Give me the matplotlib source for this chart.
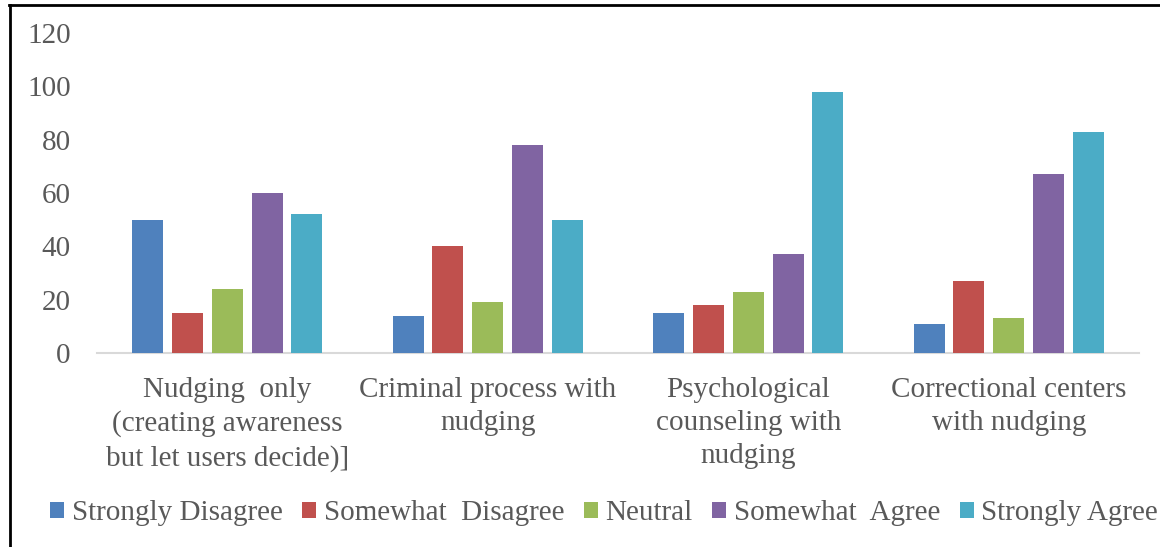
import matplotlib
matplotlib.use("Agg")
import matplotlib.pyplot as plt
from matplotlib.lines import Line2D
import numpy as np

categories = [
    "Nudging  only\n(creating awareness\nbut let users decide)]",
    "Criminal process with\nnudging",
    "Psychological\ncounseling with\nnudging",
    "Correctional centers\nwith nudging",
]
series_names = ["Strongly Disagree", "Somewhat  Disagree", "Neutral",
                "Somewhat  Agree", "Strongly Agree"]
strongly_disagree = [50, 14, 15, 11]
somewhat_disagree = [15, 40, 18, 27]
neutral = [24, 19, 23, 13]
somewhat_agree = [60, 78, 37, 67]
strongly_agree = [52, 50, 98, 83]
y_ticks = [0, 20, 40, 60, 80, 100, 120]

series_values = [strongly_disagree, somewhat_disagree, neutral,
                 somewhat_agree, strongly_agree]
colors = ["#4F81BD", "#C0504D", "#9BBB59", "#8064A2", "#4BACC6"]
text_color = "#595959"

plt.rcParams["font.family"] = ["Liberation Serif", "DejaVu Serif"]
plt.rcParams["font.size"] = 21

fig = plt.figure(figsize=(11.6, 5.47), dpi=100)
ax = fig.add_axes([97 / 1160, 1 - 353 / 547, (1139 - 97) / 1160, 320 / 547])

x = np.arange(len(categories))
step = 0.153
width = 0.119
for i, (name, vals, c) in enumerate(zip(series_names, series_values, colors)):
    ax.bar(x + (i - 2) * step, vals, width, color=c, label=name, zorder=3)

ax.set_xlim(-0.5, len(categories) - 0.5)
ax.set_ylim(0, 120)
ax.set_yticks(y_ticks)
ax.set_yticklabels([str(v) for v in y_ticks], color=text_color)
ax.tick_params(axis="y", length=0, pad=19)
ax.set_xticks([])

for side in ["top", "right", "left"]:
    ax.spines[side].set_visible(False)
ax.spines["bottom"].set_color("#D9D9D9")
ax.spines["bottom"].set_linewidth(1.5)

for xi, lab in zip(x, categories):
    ax.text(xi, -0.074, lab, transform=ax.get_xaxis_transform(),
            ha="center", va="top", multialignment="center",
            color=text_color, linespacing=1.37)

leg = fig.legend(loc="center", bbox_to_anchor=(604 / 1160, 1 - 513 / 547),
                 ncol=5, frameon=False, handlelength=0.48, handleheight=0.48,
                 handletextpad=0.26, columnspacing=0.67, borderaxespad=0,
                 borderpad=0)
for t in leg.get_texts():
    t.set_color(text_color)

# Frame edges on the left and top
fig.add_artist(Line2D([10 / 1160, 10 / 1160], [0, 1 - 4.5 / 547],
                      transform=fig.transFigure, color="black", lw=2))
fig.add_artist(Line2D([9 / 1160, 1], [1 - 4.5 / 547, 1 - 4.5 / 547],
                      transform=fig.transFigure, color="black", lw=2))

fig.savefig("out.png", dpi=100, facecolor="white")
